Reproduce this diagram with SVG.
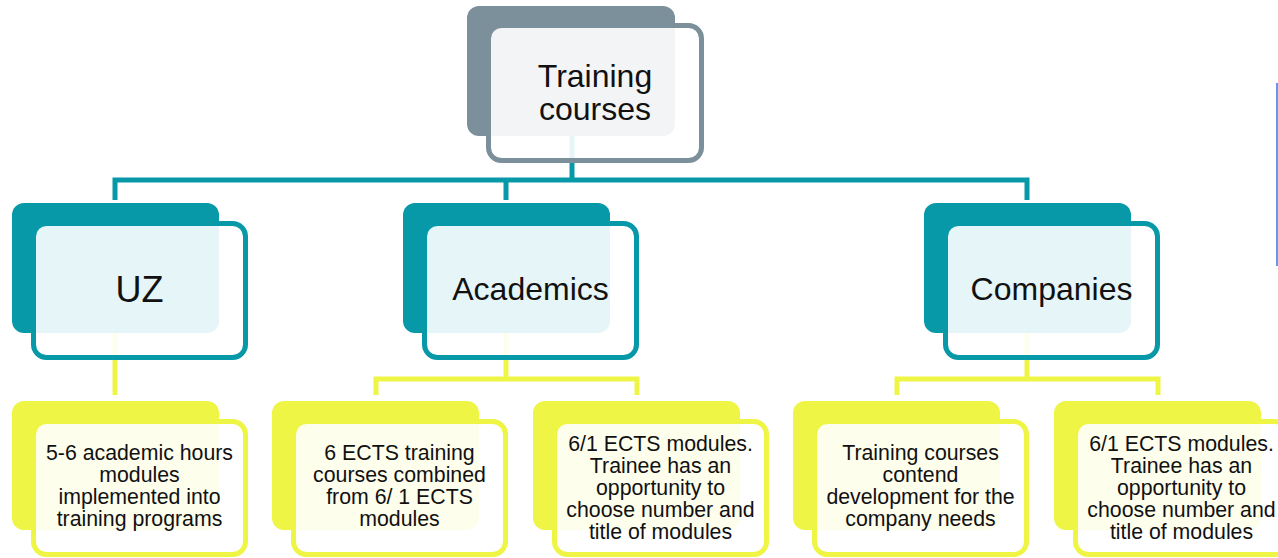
<svg xmlns="http://www.w3.org/2000/svg" width="1278" height="558" viewBox="0 0 1278 558">
<style>
  .t { font-family: "Liberation Sans", Arial, sans-serif; fill: #111; text-anchor: middle; }
  .top { font-size: 32px; }
  .l2 { font-size: 32px; }
  .l3 { font-size: 21.3px; }
  .front { fill: #ffffff; fill-opacity: 0.9; stroke-width: 5; }
  .gb { fill: #7B909B; }
  .gf { stroke: #7B909B; }
  .tb { fill: #0899A8; }
  .tf { stroke: #0899A8; }
  .yb { fill: #EEF545; }
  .yf { stroke: #EEF545; }
  .conT { fill: none; stroke: #0899A8; stroke-width: 5; }
  .conY { fill: none; stroke: #EEF545; stroke-width: 5; }
</style>
<rect x="0" y="0" width="1278" height="558" fill="#ffffff"/>
<g id="connectors">
  <path class="conT" d="M572,136 V180"/>
  <path class="conT" d="M115,200 V180 H1027 V200"/>
  <path class="conT" d="M506,180 V200"/>
  <path class="conY" d="M115,333 V395"/>
  <path class="conY" d="M506,333 V379"/>
  <path class="conY" d="M376,395 V379 H637 V395"/>
  <path class="conY" d="M1027,333 V379"/>
  <path class="conY" d="M897,395 V379 H1158 V395"/>
</g>
<g id="node-training-courses">
  <rect class="gb" x="467" y="6" width="208" height="130" rx="12"/>
  <rect class="front gf" x="488.5" y="25.5" width="213" height="135" rx="13"/>
  <text class="t top" x="595" y="87">Training</text>
  <text class="t top" x="595" y="120">courses</text>
</g>
<g id="node-uz">
  <rect class="tb" x="12" y="203" width="207" height="130" rx="12"/>
  <rect class="front tf" x="33.5" y="223.5" width="212" height="134" rx="13"/>
  <text class="t" x="139.5" y="302" style="font-size:36px">UZ</text>
</g>
<g id="node-academics">
  <rect class="tb" x="403" y="203" width="207" height="130" rx="12"/>
  <rect class="front tf" x="424.5" y="223.5" width="212" height="134" rx="13"/>
  <text class="t l2" x="530.5" y="300">Academics</text>
</g>
<g id="node-companies">
  <rect class="tb" x="924" y="203" width="207" height="130" rx="12"/>
  <rect class="front tf" x="945.5" y="223.5" width="212" height="134" rx="13"/>
  <text class="t l2" x="1051.5" y="300">Companies</text>
</g>
<g id="node-uz-modules">
  <rect class="yb" x="12" y="401" width="207" height="129" rx="12"/>
  <rect class="front yf" x="33.5" y="421.5" width="212" height="133" rx="13"/>
  <text class="t l3" x="139.5" y="460">5-6 academic hours</text>
  <text class="t l3" x="139.5" y="482">modules</text>
  <text class="t l3" x="139.5" y="504">implemented into</text>
  <text class="t l3" x="139.5" y="526">training programs</text>
</g>
<g id="node-ects-courses">
  <rect class="yb" x="272" y="401" width="207" height="129" rx="12"/>
  <rect class="front yf" x="293.5" y="421.5" width="212" height="133" rx="13"/>
  <text class="t l3" x="399.5" y="460">6 ECTS training</text>
  <text class="t l3" x="399.5" y="482">courses combined</text>
  <text class="t l3" x="399.5" y="504">from 6/ 1 ECTS</text>
  <text class="t l3" x="399.5" y="526">modules</text>
</g>
<g id="node-ects-modules-1">
  <rect class="yb" x="533" y="401" width="207" height="129" rx="12"/>
  <rect class="front yf" x="554.5" y="421.5" width="212" height="133" rx="13"/>
  <text class="t l3" x="660.5" y="451">6/1 ECTS modules.</text>
  <text class="t l3" x="660.5" y="473">Trainee has an</text>
  <text class="t l3" x="660.5" y="495">opportunity to</text>
  <text class="t l3" x="660.5" y="517">choose number and</text>
  <text class="t l3" x="660.5" y="539">title of modules</text>
</g>
<g id="node-company-needs">
  <rect class="yb" x="793" y="401" width="207" height="129" rx="12"/>
  <rect class="front yf" x="814.5" y="421.5" width="212" height="133" rx="13"/>
  <text class="t l3" x="920.5" y="460">Training courses</text>
  <text class="t l3" x="920.5" y="482">contend</text>
  <text class="t l3" x="920.5" y="504">development for the</text>
  <text class="t l3" x="920.5" y="526">company needs</text>
</g>
<g id="node-ects-modules-2">
  <rect class="yb" x="1054" y="401" width="207" height="129" rx="12"/>
  <rect class="front yf" x="1075.5" y="421.5" width="212" height="133" rx="13"/>
  <text class="t l3" x="1181.5" y="451">6/1 ECTS modules.</text>
  <text class="t l3" x="1181.5" y="473">Trainee has an</text>
  <text class="t l3" x="1181.5" y="495">opportunity to</text>
  <text class="t l3" x="1181.5" y="517">choose number and</text>
  <text class="t l3" x="1181.5" y="539">title of modules</text>
</g>
<line x1="1277" y1="83" x2="1277" y2="266" stroke="#6A96E8" stroke-width="2"/>
</svg>
